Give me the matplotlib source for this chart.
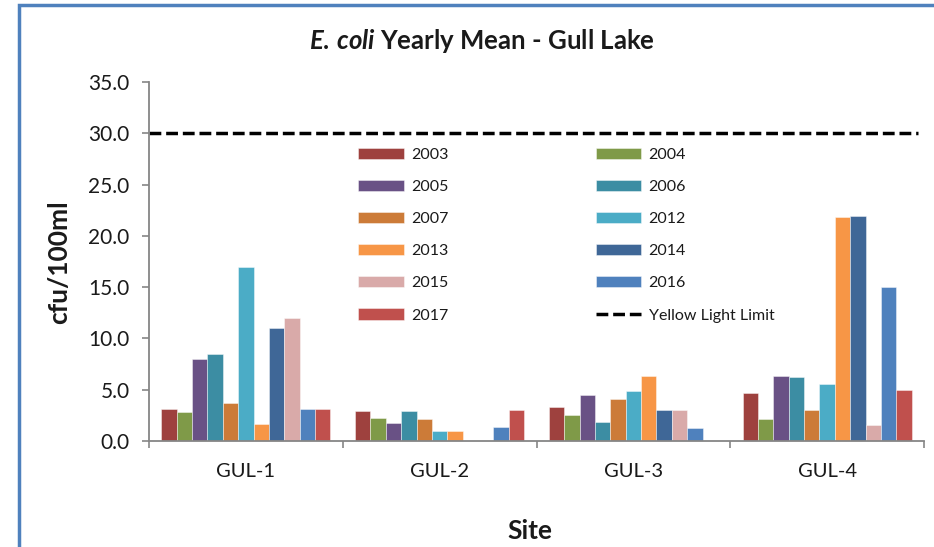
import matplotlib
matplotlib.use("Agg")
import matplotlib.pyplot as plt
from matplotlib.patches import Rectangle
import numpy as np

plt.rcParams['font.family'] = ['Lato', 'DejaVu Sans']
plt.rcParams['mathtext.fontset'] = 'custom'
plt.rcParams['mathtext.it'] = 'Lato:italic:bold'
plt.rcParams['mathtext.rm'] = 'Lato:bold'

sites = ["GUL-1", "GUL-2", "GUL-3", "GUL-4"]
years = ["2003", "2004", "2005", "2006", "2007", "2012", "2013", "2014", "2015", "2016", "2017"]
colors = ["#9E413E", "#7F9A48", "#695185", "#3C8DA3", "#CC7B38", "#4BACC6",
          "#F79646", "#3F6797", "#D9AAA9", "#4F81BD", "#C0504D"]

v2003 = [3.1, 2.9, 3.3, 4.7]
v2004 = [2.8, 2.2, 2.5, 2.1]
v2005 = [8.0, 1.8, 4.5, 6.3]
v2006 = [8.5, 2.9, 1.9, 6.2]
v2007 = [3.7, 2.1, 4.1, 3.0]
v2012 = [17.0, 1.0, 4.9, 5.6]
v2013 = [1.7, 1.0, 6.3, 21.8]
v2014 = [11.0, 0.0, 3.0, 21.9]
v2015 = [12.0, 0.0, 3.0, 1.6]
v2016 = [3.1, 1.4, 1.3, 15.0]
v2017 = [3.1, 3.0, 0.0, 5.0]
series = [v2003, v2004, v2005, v2006, v2007, v2012, v2013, v2014, v2015, v2016, v2017]

limit_value = 30.0
limit_label = "Yellow Light Limit"
yticks = [0, 5, 10, 15, 20, 25, 30, 35]

W, H = 934, 547
fig = plt.figure(figsize=(W / 100, H / 100), dpi=100)
ax = fig.add_axes([149 / W, 1 - 441 / H, (924 - 149) / W, (441 - 82) / H])

n = len(series)
group_w = 0.873
bw = group_w / n
x = np.arange(len(sites))
bars = []
for i, (vals, c, yr) in enumerate(zip(series, colors, years)):
    b = ax.bar(x - group_w / 2 + bw * (i + 0.5), vals, width=bw, color=c,
               edgecolor=(1, 1, 1, 0.5), linewidth=0.6, label=yr)
    bars.append(b)

line, = ax.plot([-0.5, 3.47], [limit_value, limit_value], color="black",
                linewidth=2.5, dashes=(3.4, 1.4), label=limit_label)

ax.set_xlim(-0.5, 3.5)
ax.set_ylim(0, 35)
ax.set_yticks(yticks)
ax.set_yticklabels([f"{t:.1f}" for t in yticks])
ax.set_xticks(x)
ax.set_xticklabels(sites)
ax.set_xticks(np.arange(-0.5, 3.6, 1.0), minor=True)

for s in ["top", "right"]:
    ax.spines[s].set_visible(False)
for s in ["left", "bottom"]:
    ax.spines[s].set_color("#868686")
    ax.spines[s].set_linewidth(1.3)

ax.tick_params(axis="y", direction="out", length=5, width=1.2, color="#868686",
               labelsize=15, pad=9, labelcolor="#1a1a1a")
ax.tick_params(axis="x", which="major", length=0, labelsize=14.5, pad=16, labelcolor="#1a1a1a")
ax.tick_params(axis="x", which="minor", direction="out", length=5, width=1.2, color="#868686")

# legend: row-major order like the reference
col1 = [0, 2, 4, 6, 8, 10]
col2 = [1, 3, 5, 7, 9]
handles = [bars[i] for i in col1] + [bars[i] for i in col2] + [line]
labels = [years[i] for i in col1] + [years[i] for i in col2] + [limit_label]
leg = fig.legend(handles, labels, ncol=2, loc="upper left",
                 bbox_to_anchor=(358 / W, 1 - 148 / H), bbox_transform=fig.transFigure,
                 frameon=False, fontsize=11.5, handlelength=2.85, handleheight=0.7,
                 handletextpad=0.45, columnspacing=9.25, labelspacing=1.12,
                 borderpad=0, borderaxespad=0)
for t in leg.get_texts():
    t.set_color("#1a1a1a")

fig.text(482 / W, 1 - 41 / H, r"$\mathit{E.\,coli}$" + " Yearly Mean - Gull Lake",
         ha="center", va="center", fontsize=18.5, fontweight="bold", color="#1a1a1a")
fig.text(59.5 / W, 1 - 262 / H, "cfu/100ml", rotation=90, ha="center", va="center",
         fontsize=19, fontweight="bold", color="#1a1a1a")
fig.text(530 / W, 1 - 531 / H, "Site", ha="center", va="center",
         fontsize=19, fontweight="bold", color="#1a1a1a")

# chart frame border (top and left visible)
fig.patches.append(Rectangle((19 / W, -0.1), 1.2, (1 - 5 / H) + 0.1,
                             transform=fig.transFigure, fill=False,
                             edgecolor="#4F81BD", linewidth=2.5, zorder=10))

fig.savefig("out.png", dpi=100)
